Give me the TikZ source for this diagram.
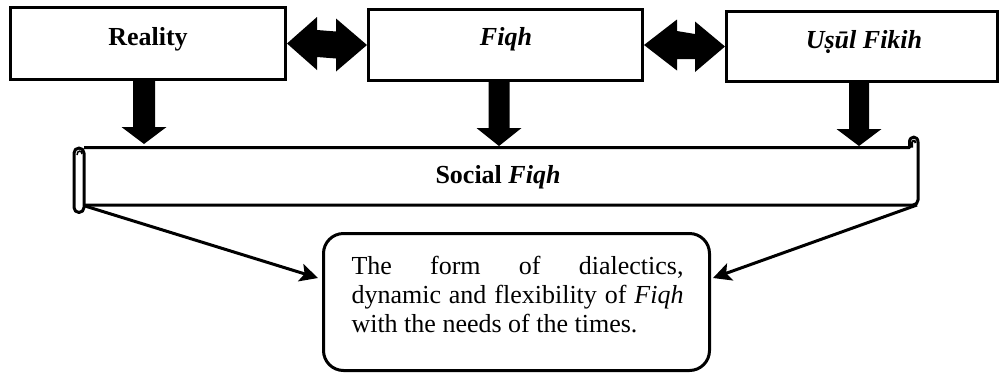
\documentclass[tikz,border=0pt]{standalone}
\usepackage{fontspec}
\setmainfont{Liberation Serif}
\usetikzlibrary{arrows.meta,calc}
\begin{document}
\begin{tikzpicture}[x=1pt,y=-1pt,line width=3pt,
  box/.style={draw,line width=3pt,inner sep=0pt},
  lbl/.style={font=\fontsize{26}{30}\selectfont\bfseries,anchor=base,inner sep=0pt},
  blk/.style={fill=black,draw=none},
  link/.style={draw,line width=3pt,-{Stealth[length=18pt,width=18pt,inset=4pt]}},
  scroll/.style={draw,line width=3pt,line join=round}]
\useasboundingbox (0,0) rectangle (999,373);

% top boxes
\node[box,minimum width=275pt,minimum height=72pt] (reality) at (148,43.5) {};
\node[box,minimum width=274pt,minimum height=71pt] (fiqh) at (505.5,45) {};
\node[box,minimum width=271pt,minimum height=70pt] (usul) at (862,46.5) {};
\node[lbl] (treality) at (148,45) {Reality};
\node[lbl] (tfiqh) at (506,45) {\textit{Fiqh}};
\node[lbl] (tusul) at (864,48) {\textit{Uṣūl Fikih}};

% double block arrows
\fill[blk] (reality.east) -- ++(30,-26.5) -- ++(0,13) -- ($(fiqh.west)+(-31,-13.5)$) -- ++(0,-13)
  -- (fiqh.west) -- ++(-31,26.5) -- ++(0,-13) -- ($(reality.east)+(30,13.5)$) -- ++(0,13) -- cycle;
\fill[blk] (fiqh.east) -- ++(33,-25.5) -- ++(0,11.5) -- ($(usul.west)+(-30,-12.5)$) -- ++(0,-12.5)
  -- (usul.west) -- ++(-30,25.5) -- ++(0,-13) -- ($(fiqh.east)+(33,14)$) -- ++(0,11.5) -- cycle;

% downward block arrows
\fill[blk] ($(reality.south)+(-15,0)$) -- ++(22,0) -- ++(0,46) -- ++(11.5,0) -- ++(-22.5,17)
  -- ++(-22.5,-17) -- ++(11.5,0) -- cycle;
\fill[blk] ($(fiqh.south)+(-17,0)$) -- ++(21,0) -- ++(0,46) -- ++(12,0) -- ++(-22.5,18)
  -- ++(-22.5,-18) -- ++(12,0) -- cycle;
\fill[blk] ($(usul.south)+(-13,0)$) -- ++(20,0) -- ++(0,46) -- ++(12.5,0) -- ++(-22.5,17)
  -- ++(-22.5,-17) -- ++(12.5,0) -- cycle;

% scroll
\draw[scroll] (84,147.5) -- (909.5,147.5) -- (909.5,142)
  .. controls (909.5,135.5) and (918,135.5) .. (918,142)
  [rounded corners=5pt] -- (918,205) -- (84,205);
\draw[line width=2pt] (912,147.5) -- (912,143) .. controls (912,140) and (915.5,140) .. (915.5,143);
\draw[scroll,fill=white,rounded corners=5pt] (74,148) rectangle (84,212.5);
\draw[line width=1.5pt] (77,155) .. controls (77,150) and (82,150) .. (82,154);
\node[lbl] (social) at (498,183) {Social \textit{Fiqh}};
\coordinate (sbl) at (85,206);
\coordinate (sbr) at (917,205);

% bubble
\node[box,rounded corners=20pt,minimum width=386pt,minimum height=137pt] (bubble) at (516.5,302) {};
\node[anchor=north west,inner sep=0pt,text width=332pt,align=justify,
  font=\fontsize{26}{29}\selectfont] (btext) at (350,255)
  {The form of dialectics,\linebreak dynamic and flexibility of \textit{Fiqh} with the needs of the times.};

\draw[link] (sbl) -- ($(bubble.west)+(-4,-24)$);
\draw[link] (sbr) -- ($(bubble.east)+(2,-24)$);
\end{tikzpicture}
\end{document}
